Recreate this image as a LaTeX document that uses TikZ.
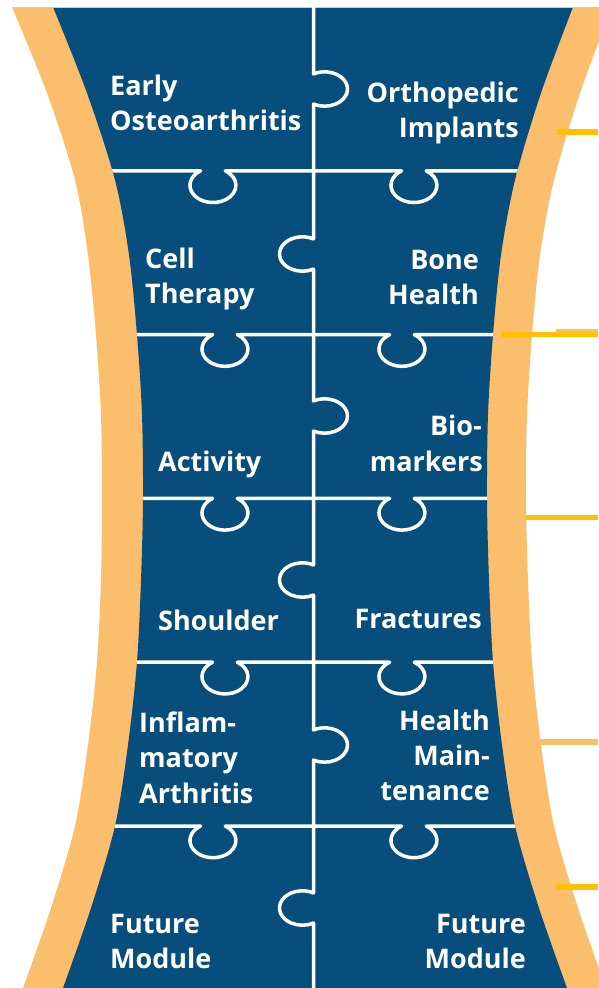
\documentclass[tikz,border=0pt]{standalone}
\usepackage{fontspec}
\setmainfont{Open Sans}
\definecolor{pzblue}{RGB}{8,78,124}
\definecolor{pzorange}{RGB}{251,190,108}
\definecolor{pzyellow}{RGB}{255,192,0}
\definecolor{pztop}{RGB}{200,205,218}
\begin{document}
\begin{tikzpicture}[x=1pt,y=-1pt,
  lbl/.style={text=white,font=\bfseries\fontsize{27}{32}\selectfont,inner sep=0pt},
  gridline/.style={draw=white,line width=3.5pt,line join=round},
  tick/.style={line width=6pt}]
\useasboundingbox (0,0) rectangle (598,988);
% orange band
\fill[pzorange] (12,7) -- (612,7) -- plot[smooth] coordinates {(612,7) (580,93) (554,180) (540,255) (532,335) (527,415) (526,500) (528,580) (532,662) (541,745) (554,826) (578,908) (606,988)} -- (606,990) -- (23,990) -- plot[smooth] coordinates {(23,988) (51,908) (75,826) (88,745) (97,662) (101,580) (102,500) (101,415) (96,335) (88,255) (75,180) (47,93) (12,7)} -- cycle;
% blue body
\def\bluebody{(53,7) -- (573,7) -- plot[smooth] coordinates {(573,7) (541,93) (515,180) (501,255) (493,335) (488,415) (487,500) (489,580) (493,662) (502,745) (515,826) (539,908) (567,988)} -- (567,990) -- (63,990) -- plot[smooth] coordinates {(63,988) (91,908) (115,826) (128,745) (137,662) (141,580) (143,500) (142,415) (137,335) (129,255) (115,180) (87,93) (53,7)} -- cycle}
\fill[pzblue] \bluebody;
\draw[pztop,line width=1.2pt] (53,7.5) -- (573,7.5);
% lines on the right
\draw[pzorange,tick,line width=4pt] (556,330.5) -- (598,330.5);
\draw[pzorange,tick] (530,741.5) -- (598,741.5);
\draw[pzyellow,tick] (557,131.5) -- (598,131.5);
\draw[pzyellow,tick,line width=5.5pt] (501,334.5) -- (598,334.5);
\draw[pzyellow,tick,line width=5pt] (526,517.3) -- (598,517.3);
\draw[pzyellow,tick] (556,886.5) -- (598,886.5);
% puzzle grid
\begin{scope}
\clip \bluebody;
\draw[gridline] (313.5,0) -- (313.5,73.9)
  arc[start angle=-118.6,end angle=118.6,x radius=23,y radius=17.2] -- (313.5,238.9)
  arc[start angle=-61.4,end angle=-298.6,x radius=23,y radius=17.2] -- (313.5,400.9)
  arc[start angle=-118.6,end angle=118.6,x radius=23,y radius=17.2] -- (313.5,564.9)
  arc[start angle=-61.4,end angle=-298.6,x radius=23,y radius=17.2] -- (313.5,729.9)
  arc[start angle=-118.6,end angle=118.6,x radius=23,y radius=17.2] -- (313.5,892.9)
  arc[start angle=-61.4,end angle=-298.6,x radius=23,y radius=17.2] -- (313.5,995);
\foreach \yl/\xa/\xb in {170.8/213/414, 334.6/225/402, 498.4/225/402, 662.2/225/402, 826/213/414}{
  \draw[gridline] (0,\yl) -- ({\xa-12.4},\yl)
    arc[start angle=237.5,end angle=-57.5,x radius=23,y radius=17.2] -- ({\xb-12.4},\yl)
    arc[start angle=237.5,end angle=-57.5,x radius=23,y radius=17.2] -- (598,\yl);
}
\end{scope}
% labels
\node[lbl,anchor=base west] (l1a) at (110,95) {Early};
\node[lbl,anchor=base west] (l1b) at (110,130) {Osteoarthritis};
\node[lbl,anchor=base east] (r1a) at (519,102) {Orthopedic};
\node[lbl,anchor=base east] (r1b) at (519,137) {Implants};
\node[lbl,anchor=base west] (l2a) at (145,268) {Cell};
\node[lbl,anchor=base west] (l2b) at (145,303) {Therapy};
\node[lbl,anchor=base east] (r2a) at (479,269) {Bone};
\node[lbl,anchor=base east] (r2b) at (479,304) {Health};
\node[lbl,anchor=base west] (l3a) at (158,471) {Activity};
\node[lbl,anchor=base east] (r3a) at (482,435) {Bio-};
\node[lbl,anchor=base east] (r3b) at (483,471) {markers};
\node[lbl,anchor=base west] (l4a) at (158,630) {Shoulder};
\node[lbl,anchor=base east] (r4a) at (482,628) {Fractures};
\node[lbl,anchor=base west] (l5a) at (139,732) {Inflam-};
\node[lbl,anchor=base west] (l5b) at (139,767) {matory};
\node[lbl,anchor=base west] (l5c) at (139,803) {Arthritis};
\node[lbl,anchor=base east] (r5a) at (490,730) {Health};
\node[lbl,anchor=base east] (r5b) at (490,765) {Main-};
\node[lbl,anchor=base east] (r5c) at (490,800) {tenance};
\node[lbl,anchor=base west] (l6a) at (110,933) {Future};
\node[lbl,anchor=base west] (l6b) at (110,968) {Module};
\node[lbl,anchor=base east] (r6a) at (526,933) {Future};
\node[lbl,anchor=base east] (r6b) at (526,968) {Module};
\end{tikzpicture}
\end{document}
